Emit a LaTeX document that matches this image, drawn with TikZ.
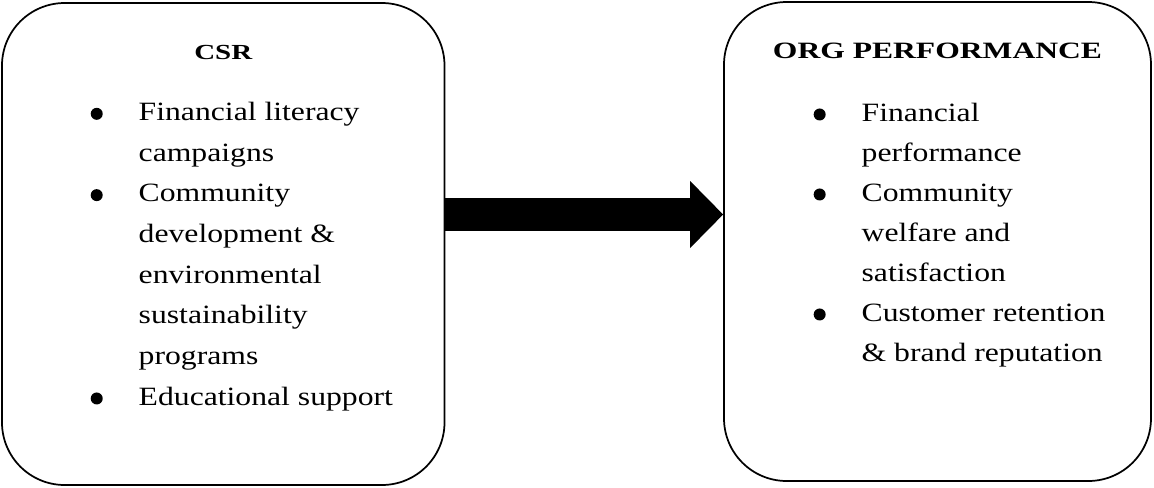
\documentclass[tikz,border=0pt]{standalone}
\usepackage{fontspec}
\setmainfont{Liberation Serif}[FakeStretch=1.2]
\newfontfamily\headfont{Liberation Serif}[FakeStretch=1.35]
\usetikzlibrary{positioning, arrows.meta}

% list marks
\newcommand{\bul}{\makebox[36pt][l]{\tikz[baseline={(0pt,-5pt)}]\fill (4.5pt,0pt) circle (4.5pt);}}
\newcommand{\ind}{\hspace*{36pt}}

\begin{document}
\begin{tikzpicture}[x=0.75pt, y=-0.75pt,
	box/.style={draw, line width=1.3pt, rounded corners=47pt, inner sep=0pt},
	head/.style={font=\headfont\bfseries\fontsize{#1}{#1}\selectfont, inner sep=0pt, anchor=base},
	items/.style={font=\fontsize{19.8pt}{#1}\selectfont, align=left, inner sep=0pt, anchor=base west}]
	\useasboundingbox (0,0) rectangle (1154,487);

	\node[box, minimum width=331.9pt, minimum height=361.5pt] (csr) at (223.25,244) {};
	\node[box, minimum width=320.25pt, minimum height=359.25pt] (org) at (937.5,241.5) {};

	\node[head=16.1pt] (csrhead) at ([yshift=-42.75pt]csr.north) {CSR};
	\node[head=17.55pt] (orghead) at ([yshift=-42.75pt]org.north) {ORG PERFORMANCE};

	% base anchor = last line
	\node[items=30.5pt] (csrlist) at ([xshift=67pt, yshift=-302.25pt]csr.north west) {%
		\bul Financial literacy\\
		\ind campaigns\\
		\bul Community\\
		\ind development \&\\
		\ind environmental\\
		\ind sustainability\\
		\ind programs\\
		\bul Educational support};
	\node[items=30pt] (orglist) at ([xshift=67.7pt, yshift=-270pt]org.north west) {%
		\bul Financial\\
		\ind performance\\
		\bul Community\\
		\ind welfare and\\
		\ind satisfaction\\
		\bul Customer retention\\
		\ind \& brand reputation};

	\coordinate (lvl) at (0,214.5);
	\draw[line width=24.75pt, -{Triangle[length=24.75pt 0 0, width=50.25pt 0 0, line width=0pt 0 0]}]
		(csr.east |- lvl) -- (org.west |- lvl);
\end{tikzpicture}
\end{document}
